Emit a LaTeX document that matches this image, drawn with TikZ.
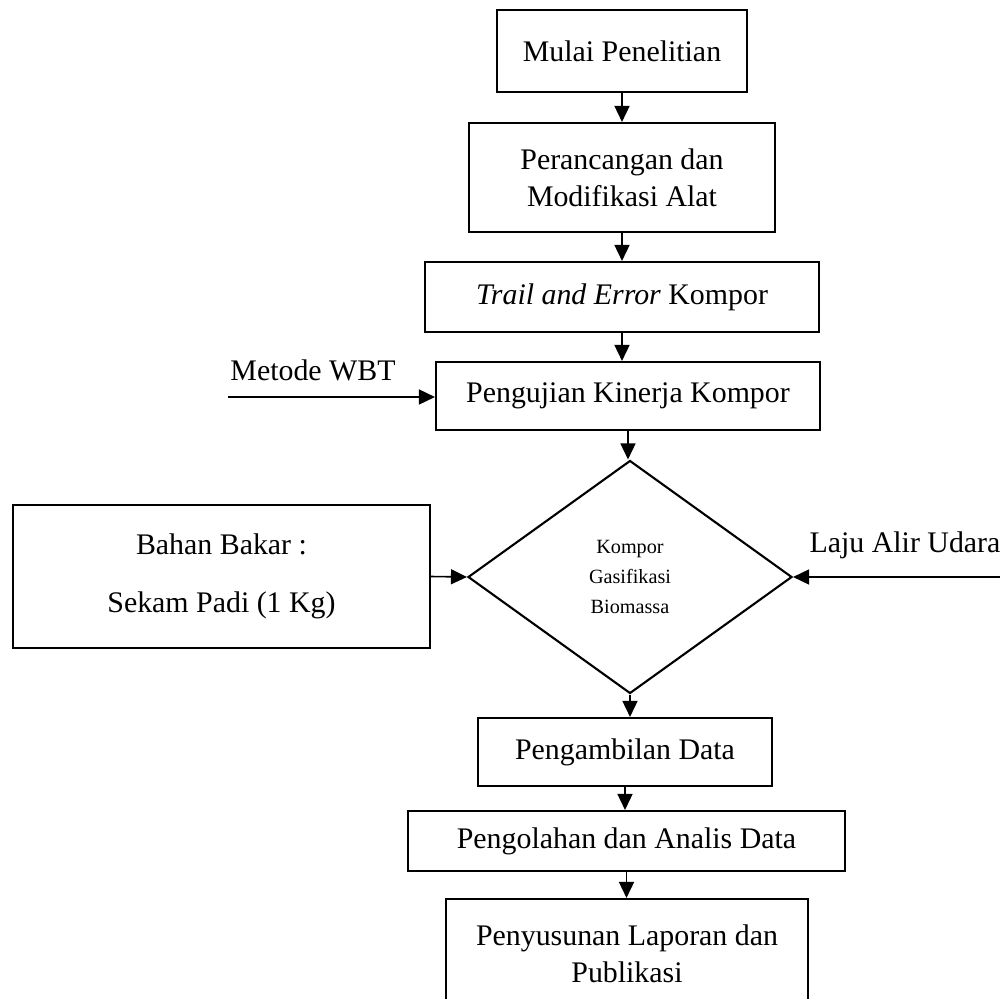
\documentclass[tikz,border=0pt]{standalone}
\usepackage{fontspec}
\setmainfont{Liberation Serif}
\usetikzlibrary{shapes.geometric,arrows.meta}

\begin{document}
\begin{tikzpicture}[every node/.style={font=\fontsize{17}{21}\selectfont},
    box/.style={draw, line width=1.2pt, align=center, inner sep=2pt},
    arr/.style={-{Triangle[width=0.3cm,length=0.32cm]}, line width=0.9pt}]
    \useasboundingbox (0,0) rectangle (20.12,-19.98);
    \node[box, minimum width=5cm, minimum height=1.64cm] (mulai) at (12.44,-1.02) {Mulai Penelitian};
    \node[box, minimum width=6.12cm, minimum height=2.18cm] (rancang) at (12.44,-3.55) {Perancangan dan\\Modifikasi Alat};
    \node[box, minimum width=7.88cm, minimum height=1.4cm] (trial) at (12.44,-5.94) {\textit{Trail and Error} Kompor};
    \node[box, minimum width=7.68cm, minimum height=1.36cm] (uji) at (12.56,-7.92) {Pengujian Kinerja Kompor};
    \node[box, shape=diamond, minimum width=6.48cm, minimum height=4.66cm, inner sep=0pt,
        font=\fontsize{11.5}{17}\selectfont] (kompor) at (12.6,-11.54) {Kompor\\Gasifikasi\\Biomassa};
    \node[box, minimum width=8.34cm, minimum height=2.86cm] (bahan) at (4.43,-11.53) {Bahan Bakar :\\[12pt]Sekam Padi (1 Kg)};
    \node[box, minimum width=5.88cm, minimum height=1.36cm] (ambil) at (12.5,-15.04) {Pengambilan Data};
    \node[box, minimum width=8.74cm, minimum height=1.2cm] (olah) at (12.53,-16.82) {Pengolahan dan Analis Data};
    \node[box, minimum width=7.24cm, minimum height=2.2cm] (susun) at (12.54,-19.08) {Penyusunan Laporan dan\\Publikasi};

    \node (wbt) at (6.26,-7.40) {Metode WBT};
    \node (udara) at (18.1,-10.9) {Laju Alir Udara};
    \coordinate (wbtin) at (4.56,-7.94);
    \coordinate (udarain) at (20.0,-11.54);

    \draw[arr] (mulai.south) -- (mulai.south |- rancang.north);
    \draw[arr] (rancang.south) -- (rancang.south |- trial.north);
    \draw[arr] (trial.south) -- (trial.south |- uji.north);
    \draw[arr] (uji.south) -- (uji.south |- kompor.north);
    \draw[arr] (wbtin) -- (wbtin -| uji.west);
    \draw[arr] (bahan.east) -- (kompor.west);
    \draw[arr] (udarain) -- (kompor.east);
    \draw[arr] (kompor.south) -- (kompor.south |- ambil.north);
    \draw[arr] (ambil.south) -- (ambil.south |- olah.north);
    \draw[arr] (olah.south) -- (olah.south |- susun.north);
\end{tikzpicture}
\end{document}
